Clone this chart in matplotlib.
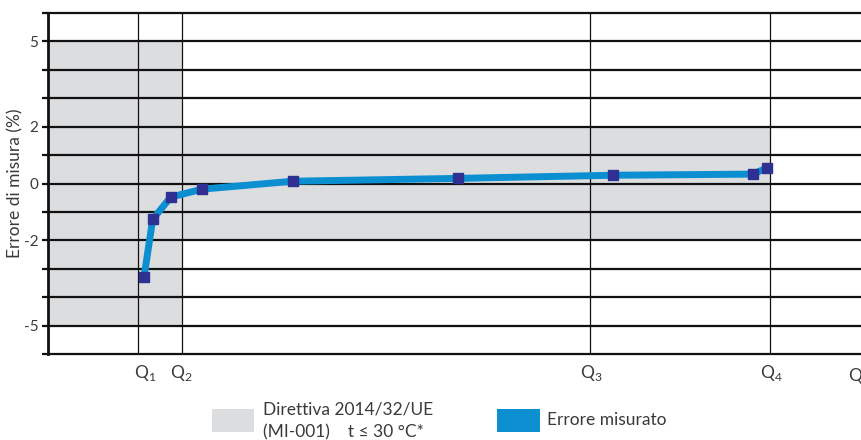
import numpy as np
import matplotlib.pyplot as plt
from matplotlib.patches import Rectangle

plt.rcParams['font.family'] = ['Lato', 'DejaVu Sans']

# flow axis in arbitrary units (left edge of plot = 0)
x_left, x_right = 0, 814
q_pos = [90, 134, 542, 722]
q_names = ['1', '2', '3', '4']

# measured error (%)
flow = [96, 104.7, 122.7, 154, 244.7, 410, 564.7, 704.7, 718.7]
error = [-3.30, -1.26, -0.48, -0.20, 0.08, 0.18, 0.29, 0.33, 0.54]

# MID limits, t <= 30 C
lim_low_flow = 5     # Q1..Q2 band (from left edge)
lim_high_flow = 2    # Q2..Q4 band

y_lines = np.arange(-6, 7)
y_labels = {5: '5', 2: '2', 0: '0', -2: '-2', -5: '-5'}

grey = '#DCDDDF'
blue = '#0B8FD1'
navy = '#2E3192'
ink = '#111111'
txt = '#3A3A3A'

fig = plt.figure(figsize=(8.62, 4.40), dpi=100)
ax = fig.add_axes([48 / 862, 1 - 354 / 440, 1 - 48 / 862, (354 - 13) / 440])

# tolerance areas
ax.add_patch(Rectangle((x_left, -lim_low_flow), q_pos[1] - x_left, 2 * lim_low_flow,
                       color=grey, lw=0, zorder=0))
ax.add_patch(Rectangle((q_pos[1], -lim_high_flow), q_pos[3] - q_pos[1], 2 * lim_high_flow,
                       color=grey, lw=0, zorder=0))

for y in y_lines:
    ax.axhline(y, color=ink, lw=1.6, zorder=1, clip_on=False)
for q in q_pos:
    ax.axvline(q, color=ink, lw=0.9, zorder=1)

ax.plot(flow, error, color=blue, lw=5, solid_joinstyle='round', zorder=3)
ax.plot(flow, error, ls='none', marker='s', ms=6.5, color=navy, zorder=4)

ax.set_xlim(x_left, x_right)
ax.set_ylim(-6, 6)
for s in ['top', 'right', 'bottom']:
    ax.spines[s].set_visible(False)
ax.spines['left'].set_linewidth(2)
ax.spines['left'].set_color(ink)

ax.set_yticks(y_lines)
ax.set_yticklabels([y_labels.get(int(v), '') for v in y_lines])
ax.tick_params(axis='y', length=4, width=1.6, color=ink, labelsize=11,
               labelcolor=txt, pad=3)
ax.set_xticks([])
ax.set_ylabel('Errore di misura (%)', fontsize=12.5, color=txt)
ax.yaxis.set_label_coords(-25 / 814, 0.5)

# Q labels below the axis
q_offsets = [7, -1, 1, 1]
for q, name, dx in zip(q_pos, q_names, q_offsets):
    ax.text(q + dx, -6.3, 'Q$_\\mathregular{' + name + '}$', ha='center', va='top',
            fontsize=12.5, color=txt)
ax.text(800, -6.5, 'Q', ha='left', va='top', fontsize=12.5, color=txt, clip_on=False)

# legend
fig.patches.append(Rectangle((212 / 862, 1 - 432 / 440), 42 / 862, 23 / 440,
                             transform=fig.transFigure, color=grey, lw=0))
fig.text(263 / 862, 1 - 409 / 440, 'Direttiva 2014/32/UE', va='center',
         fontsize=12.5, color=txt)
fig.text(263 / 862, 1 - 432 / 440, '(MI-001)    t \u2264 30 \u00b0C*', va='center',
         fontsize=12.5, color=txt)
fig.patches.append(Rectangle((497 / 862, 1 - 432 / 440), 43 / 862, 23 / 440,
                             transform=fig.transFigure, color=blue, lw=0))
fig.text(547 / 862, 1 - 420 / 440, 'Errore misurato', va='center',
         fontsize=12.5, color=txt)

fig.savefig('out.png', dpi=100)
